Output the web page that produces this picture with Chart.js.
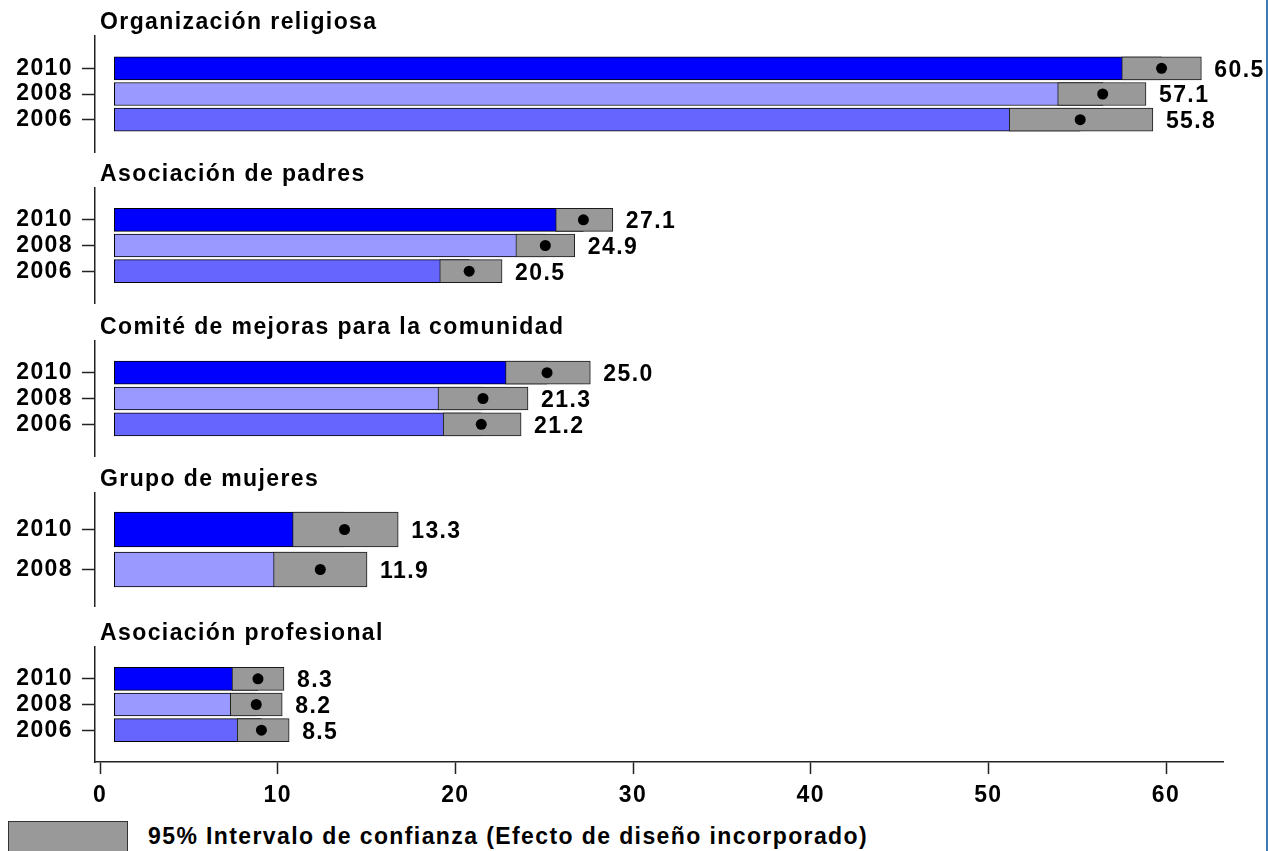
<!DOCTYPE html>
<html>
<head>
<meta charset="utf-8">
<script src="https://cdn.jsdelivr.net/npm/chart.js@4.4.1/dist/chart.umd.min.js"></script>
<style>
  html, body { margin: 0; padding: 0; background: #fff; overflow: hidden; }
  #wrap { position: relative; width: 1268px; height: 851px; overflow: hidden; background: #fff; }
  #wrap canvas { position: absolute; left: 0; }
  #edge { position: absolute; left: 1266px; top: 0; width: 2px; height: 851px; background: #3b7cb4; }
  #legBox { position: absolute; left: 8px; top: 821px; width: 120px; height: 40px; background: #999999;
            border: 1px solid #333; box-sizing: border-box; }
  #legText { position: absolute; left: 148px; top: 822px; font: bold 23px "Liberation Sans", Arial, sans-serif;
             letter-spacing: 1.4px; line-height: 28px; white-space: nowrap; color: #000; }
</style>
</head>
<body>
<div id="wrap">
  <div id="edge"></div>
  <div id="legBox"></div>
  <div id="legText"></div>
</div>
<script>
// ---------------- DATA ----------------
const groupTitles = [
  'Organización religiosa',
  'Asociación de padres',
  'Comité de mejoras para la comunidad',
  'Grupo de mujeres',
  'Asociación profesional'
];
const yearLabels = [
  ['2010', '2008', '2006'],
  ['2010', '2008', '2006'],
  ['2010', '2008', '2006'],
  ['2010', '2008'],
  ['2010', '2008', '2006']
];
const meanValues = [
  [60.5, 57.1, 55.8],
  [27.1, 24.9, 20.5],
  [25.0, 21.3, 21.2],
  [13.3, 11.9],
  [8.3, 8.2, 8.5]
];
const ciLow = [
  [58.2, 54.5, 51.7],
  [25.5, 23.2, 18.8],
  [22.6, 18.7, 19.0],
  [10.3, 9.2],
  [6.8, 6.7, 7.1]
];
const ciHigh = [
  [62.8, 59.6, 60.0],
  [28.8, 26.6, 22.4],
  [27.5, 23.9, 23.5],
  [16.4, 14.6],
  [9.8, 9.7, 10.1]
];
const xTickValues = [0, 10, 20, 30, 40, 50, 60];
const legendLabel = '95% Intervalo de confianza (Efecto de diseño incorporado)';

// ---------------- STYLE / LAYOUT ----------------
const YEAR_COLORS = { '2010': '#0000ff', '2008': '#9999ff', '2006': '#6666ff' };
const CI_COLOR = '#999999';
const INK = '#000000';
const AXIS_INK = '#222222';
const FONT_FAMILY = '"Liberation Sans", Arial, Helvetica, sans-serif';
const FONT = { family: FONT_FAMILY, size: 23, weight: 'bold' };
const TRACK = '1.4px';

const CANVAS_W = 1266;
const AREA_LEFT = 95, AREA_RIGHT = 1223;
const AREA_W = AREA_RIGHT - AREA_LEFT;
const AXIS_TOP = [36, 188, 341, 493, 647];
const AXIS_H = [116, 115, 115, 113, 115];
const ROW_STEP = [25.7, 25.7, 25.8, 40, 25.7];
const BAR_H = [23, 23, 23, 35, 23];
const TITLE_PAD_TOP = 8, TITLE_LINE = 26;
const TITLE_BLOCK = TITLE_PAD_TOP + TITLE_LINE;
const TITLE_SHIFT_X = 5;
const XAXIS_H = 50;

// data scale (bars/points): 0 at 114.3px, 17.31 px per unit
const DATA_PX = 17.31, DATA_ZERO = 114.3;
const DATA_MIN = -(DATA_ZERO - AREA_LEFT) / DATA_PX;
const DATA_MAX = DATA_MIN + AREA_W / DATA_PX;
// printed axis: 0 at 100px, 17.767 px per unit
const AXIS_PX = 17.767, AXIS_ZERO = 100;
const AXIS_MIN = -(AXIS_ZERO - AREA_LEFT) / AXIS_PX;
const AXIS_MAX = AXIS_MIN + AREA_W / AXIS_PX;

document.getElementById('legText').textContent = legendLabel;

const trackingPlugin = {
  id: 'tracking',
  afterLayout(chart) {
    if (chart.titleBlock) {
      chart.titleBlock.left += TITLE_SHIFT_X;
      chart.titleBlock.right += TITLE_SHIFT_X;
    }
  },
  beforeDraw(chart) { chart.ctx.letterSpacing = TRACK; }
};

const valueLabelPlugin = {
  id: 'valueLabels',
  afterDatasetsDraw(chart, args, opts) {
    const g = opts.group;
    const ctx = chart.ctx;
    ctx.save();
    ctx.font = `bold ${FONT.size}px ${FONT_FAMILY}`;
    ctx.fillStyle = INK;
    ctx.textAlign = 'left';
    ctx.textBaseline = 'middle';
    meanValues[g].forEach((v, i) => {
      const x = chart.scales.x.getPixelForValue(ciHigh[g][i]) + 13;
      const y = chart.scales.y.getPixelForValue(i) + 2;
      ctx.fillText(v.toFixed(1), x, y);
    });
    ctx.restore();
  }
};

const wrap = document.getElementById('wrap');

groupTitles.forEach((title, g) => {
  const last = g === groupTitles.length - 1;
  const n = yearLabels[g].length;
  const canvas = document.createElement('canvas');
  const h = TITLE_BLOCK + AXIS_H[g] + (last ? XAXIS_H : 1);
  canvas.width = CANVAS_W;
  canvas.height = h;
  canvas.style.width = CANVAS_W + 'px';
  canvas.style.height = h + 'px';
  canvas.style.top = (AXIS_TOP[g] - TITLE_BLOCK) + 'px';
  wrap.appendChild(canvas);

  const half = AXIS_H[g] / (2 * ROW_STEP[g]);
  const c = (n - 1) / 2;

  const scales = {
    x: {
      type: 'linear', display: false, min: DATA_MIN, max: DATA_MAX, offset: false
    },
    y: {
      type: 'linear', position: 'left', reverse: true, offset: false,
      min: c - half, max: c + half,
      afterBuildTicks: s => { s.ticks = yearLabels[g].map((_, i) => ({ value: i })); },
      afterFit: s => { s.width = AREA_LEFT; s.paddingTop = 0; s.paddingBottom = 0; },
      ticks: {
        callback: v => yearLabels[g][v],
        font: FONT, color: INK, padding: 9, autoSkip: false
      },
      grid: { display: true, offset: false, drawOnChartArea: false, drawTicks: true, tickLength: 13,
              tickColor: AXIS_INK, tickWidth: 1.5 },
      border: { display: true, color: AXIS_INK, width: 1.5 }
    }
  };
  if (last) {
    scales.x2 = {
      type: 'linear', axis: 'x', position: 'bottom', offset: false,
      min: AXIS_MIN, max: AXIS_MAX,
      afterBuildTicks: s => { s.ticks = xTickValues.map(v => ({ value: v })); },
      afterFit: s => { s.height = XAXIS_H; s.paddingLeft = 0; s.paddingRight = 0; },
      ticks: { font: FONT, color: INK, padding: 8, maxRotation: 0, autoSkip: false },
      grid: { display: true, offset: false, drawOnChartArea: false, drawTicks: true, tickLength: 12,
              tickColor: AXIS_INK, tickWidth: 1.5 },
      border: { display: true, color: AXIS_INK, width: 1.5 }
    };
  }

  new Chart(canvas, {
    type: 'bar',
    data: {
      datasets: [
        {
          type: 'scatter',
          label: 'media',
          data: meanValues[g].map((v, i) => ({ x: v, y: i })),
          xAxisID: 'x', yAxisID: 'y',
          pointRadius: 5.5, pointHoverRadius: 5.5,
          pointBackgroundColor: INK, pointBorderWidth: 0,
          order: 1
        },
        {
          label: legendLabel,
          data: ciLow[g].map((lo, i) => ({ x: [lo, ciHigh[g][i]], y: i })),
          xAxisID: 'x', yAxisID: 'y',
          backgroundColor: CI_COLOR, borderColor: '#1a1a1a', borderWidth: 1,
          borderSkipped: false, barThickness: BAR_H[g], grouped: false,
          order: 2
        },
        {
          label: 'porcentaje',
          data: meanValues[g].map((v, i) => ({ x: [0, v], y: i })),
          xAxisID: 'x', yAxisID: 'y',
          backgroundColor: yearLabels[g].map(yr => YEAR_COLORS[yr]),
          borderColor: '#000', borderWidth: 1,
          borderSkipped: false, barThickness: BAR_H[g], grouped: false,
          order: 3
        }
      ]
    },
    options: {
      indexAxis: 'y',
      responsive: false,
      maintainAspectRatio: false,
      devicePixelRatio: 1,
      animation: false,
      events: [],
      layout: { autoPadding: false,
                padding: { left: 0, right: CANVAS_W - AREA_RIGHT, top: 0, bottom: last ? 0 : 1 } },
      scales,
      plugins: {
        legend: { display: false },
        tooltip: { enabled: false },
        title: {
          display: true, text: title, align: 'start', fullSize: false,
          color: INK, font: { family: FONT_FAMILY, size: 23, weight: 'bold', lineHeight: TITLE_LINE + 'px' },
          padding: { top: TITLE_PAD_TOP, bottom: 0 }
        },
        valueLabels: { group: g }
      }
    },
    plugins: [trackingPlugin, valueLabelPlugin]
  });
});
</script>
</body>
</html>
